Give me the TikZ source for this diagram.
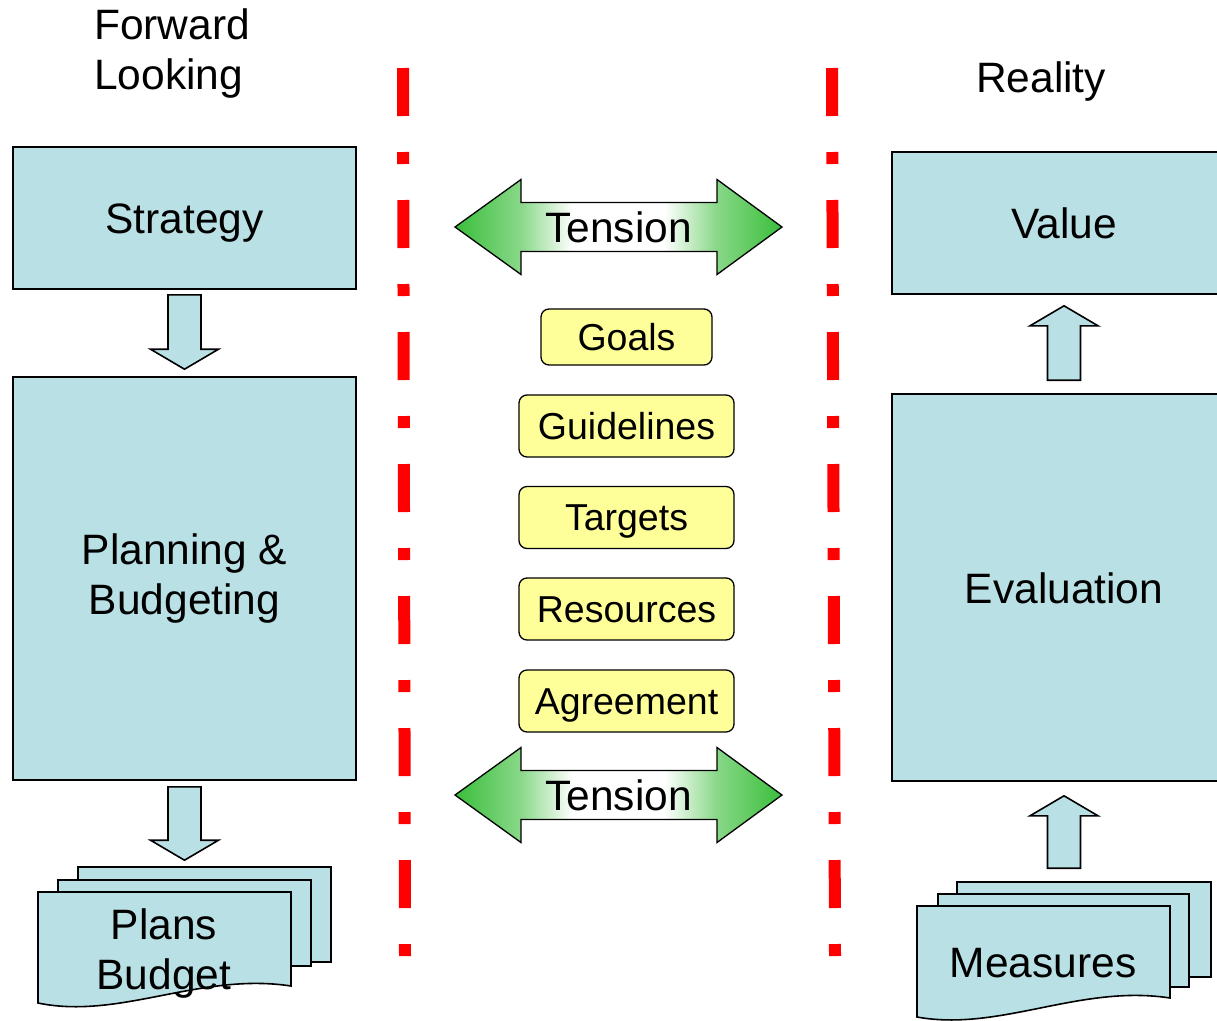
\documentclass[tikz,border=0pt]{standalone}
\usepackage{fontspec}
\setmainfont{Liberation Sans}
\usetikzlibrary{calc}
\definecolor{boxblue}{RGB}{185,224,228}
\definecolor{noteyellow}{RGB}{255,255,153}
\definecolor{tgreen}{RGB}{58,190,58}
\definecolor{dashred}{RGB}{255,0,0}
\pgfdeclarehorizontalshading{tensionshade}{100bp}{color(0bp)=(tgreen); color(25bp)=(tgreen);
  color(35bp)=(tgreen!60); color(43bp)=(white); color(57bp)=(white); color(65bp)=(tgreen!60);
  color(75bp)=(tgreen); color(100bp)=(tgreen)}
\newcommand\bigfont{\fontsize{42.5}{50}\selectfont}
\newcommand\notefont{\fontsize{37.5}{44}\selectfont}
\tikzset{
  bluebox/.style={draw=black, line width=1.6pt, fill=boxblue, inner sep=0pt, font=\bigfont, align=center},
  oneline/.style={text height=31pt, text depth=0pt},
  docrect/.style={draw=black, line width=1.6pt, fill=boxblue, inner sep=0pt},
  docshape/.style={draw=black, line width=1.6pt, fill=boxblue, line join=miter},
  notebox/.style={draw=black, line width=1.3pt, fill=noteyellow, rounded corners=8pt, inner sep=0pt,
    font=\notefont, minimum width=215pt, minimum height=62pt, text height=26pt, text depth=0pt},
  blockarr/.style={draw=black, line width=1.6pt, fill=boxblue, line join=miter},
  tensionarr/.style={draw=black, line width=1.3pt, shading=tensionshade, line join=miter},
  redline/.style={draw=dashred, line width=12pt, dash pattern=on 48pt off 36pt on 12pt off 36pt},
  plaintext/.style={inner sep=0pt, font=\bigfont, align=center},
}
% vertical block arrow from #1 (tail) to #2 (tip); x taken from #1
\newcommand\vblock[2]{%
  \path[blockarr] let \p1=(#1), \p2=(#2), \p3=($(#2)!20pt!(#1)$) in
    (\x1-16.5pt,\y1) -- (\x1+16.5pt,\y1) -- (\x1+16.5pt,\y3) -- (\x1+34pt,\y3)
    -- (\x1,\y2) -- (\x1-34pt,\y3) -- (\x1-16.5pt,\y3) -- cycle;}
% horizontal double block arrow centred on #1
\newcommand\tensionarrow[1]{%
  \path[tensionarr] let \p1=(#1) in
    (\x1-163.5pt,\y1) -- (\x1-97.5pt,\y1+47.5pt) -- (\x1-97.5pt,\y1+24.5pt)
    -- (\x1+98.5pt,\y1+24.5pt) -- (\x1+98.5pt,\y1+47.5pt) -- (\x1+163.5pt,\y1)
    -- (\x1+98.5pt,\y1-47.5pt) -- (\x1+98.5pt,\y1-24.5pt) -- (\x1-97.5pt,\y1-24.5pt)
    -- (\x1-97.5pt,\y1-47.5pt) -- cycle;}
\begin{document}
\begin{tikzpicture}[x=1pt,y=-1pt]
\useasboundingbox (0,0) rectangle (1217,1020);
\clip (0,0) rectangle (1217,1020);

% headings
\node[plaintext, align=left, anchor=north west] (fwd) at (94,9) {Forward\\Looking};
\node[plaintext, oneline] (reality) at (1041,77) {Reality};

% left column
\node[bluebox, oneline, minimum width=343pt, minimum height=142pt] (strategy) at (184.5,218) {Strategy};
\node[bluebox, minimum width=343pt, minimum height=403pt] (planning) at (184.5,578.5) {Planning \&\\Budgeting};

% plans / budget document stack
\node[docrect, minimum width=253pt, minimum height=95pt] (plansback) at (204.5,914.5) {};
\node[docrect, minimum width=253pt, minimum height=86pt] (plansmid) at (184.5,923) {};
\path[docshape] (38,892) -- (291,892) -- (291,986)
   .. controls (200,972) and (120,1020) .. (38,1003) -- cycle;
\node[plaintext] (plans) at (164,953) {Plans\\Budget};

% left block arrows
\coordinate (a1s) at ($(strategy.south)+(0,5)$);
\coordinate (a1e) at ($(planning.north)+(0,-7)$);
\vblock{a1s}{a1e}
\coordinate (a2s) at ($(planning.south)+(0,6)$);
\coordinate (a2e) at ($(planning.south |- plansback.north)+(0,-6)$);
\vblock{a2s}{a2e}

% right column
\node[bluebox, oneline, minimum width=344pt, minimum height=142pt] (value) at (1064,223) {Value};
\node[bluebox, oneline, minimum width=344pt, minimum height=387pt] (evaluation) at (1064,587.5) {Evaluation};

% measures document stack
\node[docrect, minimum width=254pt, minimum height=95pt] (measback) at (1084,929.5) {};
\node[docrect, minimum width=251pt, minimum height=93pt] (measmid) at (1063.5,940.5) {};
\path[docshape] (917,906) -- (1170,906) -- (1170,998)
   .. controls (1080,984) and (1000,1032) .. (917,1017) -- cycle;
\node[plaintext, oneline] (measures) at (1043,962) {Measures};

% right block arrows
\coordinate (b1s) at ($(evaluation.north)+(0,-13)$);
\coordinate (b1e) at ($(value.south)+(0,11)$);
\vblock{b1s}{b1e}
\coordinate (b2s) at ($(evaluation.south |- measback.north)+(0,-13)$);
\coordinate (b2e) at ($(evaluation.south)+(0,14)$);
\vblock{b2s}{b2e}

% red dash-dot separators
\coordinate (l1t) at (403,68);
\coordinate (l1b) at (405,956);
\coordinate (l2t) at (832,68);
\coordinate (l2b) at (835,956);
\draw[redline] (l1t) -- (l1b);
\draw[redline] (l2t) -- (l2b);

% tension arrows
\coordinate (t1c) at (618.5,227);
\tensionarrow{t1c}
\node[plaintext, oneline] (ten1) at (t1c) {Tension};
\coordinate (t2c) at (618.5,795);
\tensionarrow{t2c}
\node[plaintext, oneline] (ten2) at (t2c) {Tension};

% yellow items
\node[notebox, minimum width=171pt, minimum height=56pt] (goals) at (626.5,337) {Goals};
\node[notebox] (guidelines) at (626.5,426) {Guidelines};
\node[notebox] (targets) at (626.5,517.5) {Targets};
\node[notebox] (resources) at (626.5,609) {Resources};
\node[notebox] (agreement) at (626.5,701) {Agreement};
\end{tikzpicture}
\end{document}
